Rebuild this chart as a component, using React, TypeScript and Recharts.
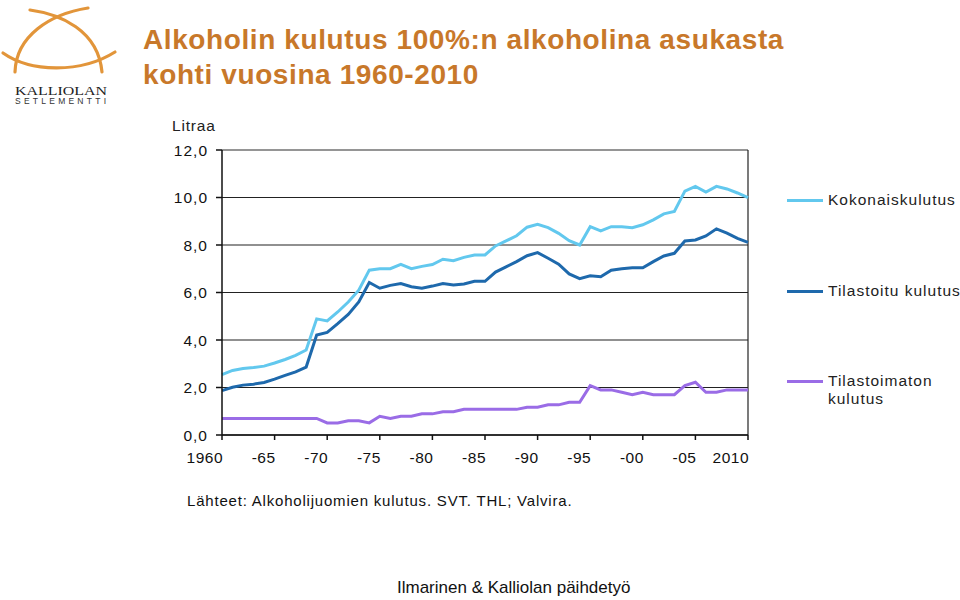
import React from "react";
import { LineChart, Line, XAxis, YAxis, CartesianGrid, ReferenceLine } from "recharts";

const years = [
  1960, 1961, 1962, 1963, 1964, 1965, 1966, 1967, 1968, 1969,
  1970, 1971, 1972, 1973, 1974, 1975, 1976, 1977, 1978, 1979,
  1980, 1981, 1982, 1983, 1984, 1985, 1986, 1987, 1988, 1989,
  1990, 1991, 1992, 1993, 1994, 1995, 1996, 1997, 1998, 1999,
  2000, 2001, 2002, 2003, 2004, 2005, 2006, 2007, 2008, 2009, 2010,
];

const kokonaiskulutus = [
  2.54, 2.72, 2.8, 2.84, 2.9, 3.03, 3.18, 3.35, 3.58, 4.89,
  4.8, 5.18, 5.6, 6.1, 6.94, 7.0, 7.0, 7.18, 7.0, 7.1,
  7.18, 7.4, 7.34, 7.48, 7.58, 7.58, 7.96, 8.17, 8.39, 8.75,
  8.87, 8.73, 8.49, 8.18, 8.0, 8.77, 8.59, 8.77, 8.77, 8.73,
  8.85, 9.06, 9.31, 9.41, 10.27, 10.47, 10.23, 10.47, 10.36, 10.19, 9.99,
];

const tilastoitu = [
  1.87, 2.01, 2.1, 2.14, 2.21, 2.35, 2.51, 2.66, 2.86, 4.21,
  4.32, 4.69, 5.08, 5.6, 6.42, 6.18, 6.3, 6.38, 6.24, 6.18,
  6.27, 6.38, 6.32, 6.36, 6.47, 6.47, 6.86, 7.08, 7.3, 7.55,
  7.68, 7.44, 7.19, 6.78, 6.58, 6.7, 6.66, 6.94, 7.0, 7.04,
  7.04, 7.3, 7.54, 7.65, 8.17, 8.21, 8.38, 8.68, 8.5, 8.28, 8.11,
];

const tilastoimaton = [
  0.7, 0.7, 0.7, 0.7, 0.7, 0.7, 0.7, 0.7, 0.7, 0.7,
  0.51, 0.51, 0.6, 0.6, 0.51, 0.79, 0.7, 0.79, 0.79, 0.89,
  0.89, 0.98, 0.98, 1.08, 1.08, 1.08, 1.08, 1.08, 1.08, 1.17,
  1.17, 1.27, 1.27, 1.38, 1.38, 2.08, 1.9, 1.9, 1.8, 1.7,
  1.8, 1.7, 1.7, 1.7, 2.08, 2.22, 1.8, 1.8, 1.9, 1.9, 1.9,
];

const xTicks = [1960, 1965, 1970, 1975, 1980, 1985, 1990, 1995, 2000, 2005, 2010];
const xTickLabels = ["1960", "-65", "-70", "-75", "-80", "-85", "-90", "-95", "-00", "-05", "2010"];
const yTicks = [0, 2, 4, 6, 8, 10, 12];

const seriesNames = ["Kokonaiskulutus", "Tilastoitu kulutus", "Tilastoimaton kulutus"];
const COLORS = ["#62C8EE", "#1E69AC", "#9A6CE6"];

const data = years.map((y, i) => ({
  year: y,
  k: kokonaiskulutus[i],
  t: tilastoitu[i],
  m: tilastoimaton[i],
}));

const FONT = "'Liberation Sans', Arial, sans-serif";

function XTick(props: any) {
  const { x, y, payload } = props;
  const label = xTickLabels[xTicks.indexOf(payload.value)];
  return (
    <text x={x + 1} y={y} dy="0.71em" textAnchor="end" fontFamily={FONT} fontSize={15.5} fill="#111" letterSpacing={0.5}>
      {label}
    </text>
  );
}

function YTick(props: any) {
  const { x, y, payload } = props;
  const label = Number(payload.value).toFixed(1).replace(".", ",");
  return (
    <text x={x + 1} y={y} dy="0.36em" textAnchor="end" fontFamily={FONT} fontSize={15.5} fill="#111" letterSpacing={1}>
      {label}
    </text>
  );
}

function Logo() {
  return (
    <svg width={130} height={115} style={{ position: "absolute", left: 0, top: 0 }}>
      <g fill="none" stroke="#E2953A" strokeWidth={3.2} strokeLinecap="round">
        <path d="M 30 10 C 60 14, 98 30, 102 72" />
        <path d="M 88 8 C 50 14, 16 36, 15 72" />
        <path d="M 3 53 C 30 72, 80 74, 115 52" />
      </g>
      <text x={15} y={94.5} fontFamily="'Liberation Serif', 'DejaVu Serif', serif" fontSize={11.5} fill="#222" textLength={92} lengthAdjust="spacingAndGlyphs">
        KALLIOLAN
      </text>
      <text x={15} y={103.5} fontFamily={FONT} fontSize={8.5} fill="#333" textLength={91} lengthAdjust="spacing">
        SETLEMENTTI
      </text>
    </svg>
  );
}

function LegendItem({ y, color, lines }: { y: number; color: string; lines: string[] }) {
  return (
    <div style={{ position: "absolute", left: 787, top: y - 9, fontFamily: FONT, fontSize: 15.5, color: "#222", lineHeight: "18px", letterSpacing: 1 }}>
      <div style={{ position: "absolute", left: 0, top: 8, width: 36, height: 3, background: color }} />
      <div style={{ position: "absolute", left: 41, top: 0, whiteSpace: "nowrap" }}>
        {lines.map((l, i) => (
          <div key={i}>{l}</div>
        ))}
      </div>
    </div>
  );
}

export default function App() {
  return (
    <div style={{ position: "absolute", left: 0, top: 0, width: 960, height: 600, background: "#fff", overflow: "hidden" }}>
      <Logo />
      <div
        style={{
          position: "absolute",
          left: 143,
          top: 22,
          fontFamily: FONT,
          fontWeight: "bold",
          fontSize: 28,
          lineHeight: "35px",
          letterSpacing: 0.6,
          color: "#C8782A",
          whiteSpace: "nowrap",
        }}
      >
        <div>Alkoholin kulutus 100%:n alkoholina asukasta</div>
        <div>kohti vuosina 1960-2010</div>
      </div>
      <div style={{ position: "absolute", left: 172, top: 117, fontFamily: FONT, fontSize: 15.5, color: "#222", letterSpacing: 0.8 }}>Litraa</div>

      <div style={{ position: "absolute", left: 0, top: 0 }}>
        <LineChart width={960} height={600} data={data} margin={{ top: 150, right: 212, left: 172, bottom: 135 }}>
          <CartesianGrid vertical={false} stroke="#222" strokeWidth={1.2} />
          <ReferenceLine y={12} stroke="#9a9a9a" strokeWidth={1.2} />
          <ReferenceLine x={2010} stroke="#222" strokeWidth={1.2} />
          <XAxis
            dataKey="year"
            type="number"
            domain={[1960, 2010]}
            ticks={xTicks}
            stroke="#111"
            strokeWidth={1.5}
            tickSize={5}
            tickMargin={12}
            height={30}
            tick={<XTick />}
            interval={0}
          />
          <YAxis
            type="number"
            domain={[0, 12]}
            ticks={yTicks}
            stroke="#111"
            strokeWidth={1.5}
            tickSize={6}
            tickMargin={9}
            width={50}
            tick={<YTick />}
            interval={0}
          />
          <Line dataKey="m" name={seriesNames[2]} stroke={COLORS[2]} strokeWidth={3} dot={false} isAnimationActive={false} />
          <Line dataKey="t" name={seriesNames[1]} stroke={COLORS[1]} strokeWidth={3} dot={false} isAnimationActive={false} />
          <Line dataKey="k" name={seriesNames[0]} stroke={COLORS[0]} strokeWidth={3} dot={false} isAnimationActive={false} />
        </LineChart>
      </div>

      <LegendItem y={200} color={COLORS[0]} lines={[seriesNames[0]]} />
      <LegendItem y={291} color={COLORS[1]} lines={[seriesNames[1]]} />
      <LegendItem y={381} color={COLORS[2]} lines={["Tilastoimaton", "kulutus"]} />

      <div style={{ position: "absolute", left: 187, top: 492, fontFamily: FONT, fontSize: 15, color: "#111", letterSpacing: 0.8 }}>
        Lähteet: Alkoholijuomien kulutus. SVT. THL; Valvira.
      </div>
      <div style={{ position: "absolute", left: 397, top: 578, fontFamily: FONT, fontSize: 17, color: "#111" }}>
        Ilmarinen &amp; Kalliolan päihdetyö
      </div>
    </div>
  );
}
